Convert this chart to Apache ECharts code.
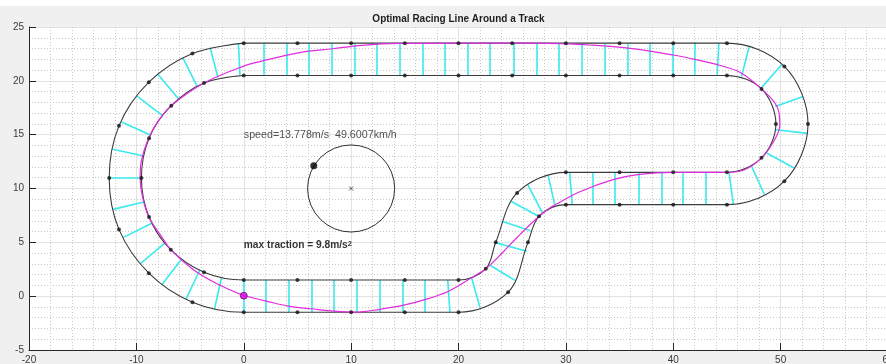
<!DOCTYPE html>
<html>
<head>
<meta charset="utf-8">
<script src="https://cdn.jsdelivr.net/npm/echarts@6/dist/echarts.min.js"></script>
<style>
html,body{margin:0;padding:0;background:#f0f0f0;}
#chart{width:886px;height:364px;}
</style>
</head>
<body>
<div id="chart"></div>
<script>
// ---------- data ----------
const chartTitle = 'Optimal Racing Line Around a Track';
const xTickRange = [-20, 60, 10];   // min, max, step
const yTickRange = [-5, 25, 5];

// boundary waypoints (black dots), left-of-travel edge
const outerEdge = [
  [0,23.5],[5,23.5],[10,23.5],[15,23.5],[20,23.5],[25,23.5],[30,23.5],[35,23.5],[40,23.5],[45,23.5],
  [50.35,21.34],[52.55,16.0],[50.35,10.68],
  [45,8.5],[40,8.5],[35,8.5],[30,8.5],
  [27.5,7.42],[26.47,5.0],[24.62,0.37],
  [20,-1.5],[15,-1.5],[10,-1.5],[5,-1.5],[0,-1.5],
  [-4.78,-0.56],[-8.84,2.14],[-11.62,6.2],[-12.53,10.98],[-11.62,15.82],[-8.84,19.87],[-4.78,22.54],[0,23.5]
];
// right-of-travel edge
const innerEdge = [
  [0,20.5],[5,20.5],[10,20.5],[15,20.5],[20,20.5],[25,20.5],[30,20.5],[35,20.5],[40,20.5],[45,20.5],
  [48.22,19.25],[49.56,16.0],[48.22,12.85],
  [45,11.5],[40,11.5],[35,11.5],[30,11.5],
  [25.46,9.59],[23.47,5.0],[22.54,2.54],
  [20,1.5],[15,1.5],[10,1.5],[5,1.5],[0,1.5],
  [-3.7,2.22],[-6.8,4.32],[-8.82,7.36],[-9.53,10.98],[-8.82,14.67],[-6.75,17.69],[-3.7,19.8],[0,20.5]
];

// optimal racing line
const racingLine = [
  [0,0.05],[-2.54,1.18],[-4.72,2.48],[-6.8,4.33],[-7.67,5.56],[-8.82,7.3],[-9.44,9.27],[-9.65,11.0],
  [-9.55,12.5],[-8.85,14.7],[-7.95,16.3],[-6.75,17.7],[-3.7,19.8],[0,21.37],[1.5,21.79],[5.2,22.62],
  [8.3,22.98],[11,23.3],[14.5,23.47],[20,23.5],[27,23.5],[29.5,23.45],[32.2,23.33],[35.8,23.03],
  [40,22.4],[42,22.0],[44.3,21.45],[46.2,20.8],[48.22,19.25],[49.65,17.64],[49.93,15.94],[49.46,14.55],
  [48.22,12.85],[46.6,11.72],[45,11.5],[40,11.5],[36.7,11.28],[34.4,10.82],[31.3,9.7],[29.44,8.72],
  [28.5,8.2],[27.5,7.42],[25.5,5.5],[24.2,4.15],[22.54,2.54],[21.21,1.71],[19.03,0.44],[16.86,-0.32],
  [14.8,-0.86],[12.67,-1.22],[10.5,-1.48],[8.4,-1.39],[6.3,-1.17],[4.16,-0.93],[2.11,-0.46],[0,0.05]
];

// cross-track segments: [x1, y1, x2, y2]
const spokes = [
  // top straight
  [-0.5,23.5,-0.35,20.5],[1.9,23.5,1.9,20.5],[4.0,23.5,4.0,20.5],[6.06,23.5,6.06,20.5],[8.23,23.5,8.23,20.5],
  [10.35,23.5,10.35,20.5],[12.42,23.5,12.42,20.5],[14.54,23.5,14.54,20.5],[16.65,23.5,16.65,20.5],
  [18.73,23.5,18.73,20.5],[20.84,23.5,20.84,20.5],[22.95,23.5,22.95,20.5],[25.1,23.5,25.1,20.5],
  [27.27,23.5,27.27,20.5],[29.38,23.5,29.38,20.5],[31.5,23.5,31.5,20.5],[33.65,23.5,33.65,20.5],
  [35.76,23.5,35.76,20.5],[37.84,23.5,37.84,20.5],[39.92,23.5,39.92,20.5],[42.03,23.55,42.0,20.55],
  [44.25,23.52,44.09,20.55],
  // hairpin
  [47.07,23.2,46.36,20.4],[50.09,21.5,48.16,19.3],[52.1,18.55,49.5,17.62],[52.5,15.12,49.55,15.45],
  [51.25,11.9,48.7,13.3],[48.5,9.42,47.3,12.05],
  // middle straight
  [45.6,8.5,45.2,11.5],[43.04,8.5,43.04,11.5],[40.93,8.5,40.93,11.5],[38.91,8.5,38.91,11.5],
  [36.8,8.5,36.8,11.5],[34.56,8.5,34.56,11.5],[32.48,8.5,32.48,11.5],[30.6,8.5,30.35,11.5],
  // S-curve
  [28.97,8.45,28.35,11.2],[27.8,7.75,26.45,10.36],[27.4,7.45,24.9,8.81],[26.7,6.08,24.05,6.95],
  [26.37,4.17,23.5,4.95],[25.24,1.48,22.98,2.85],[22.0,-1.05,21.2,1.78],
  // bottom straight
  [19.2,-1.5,19.0,1.5],[16.86,-1.5,16.86,1.5],[14.78,-1.5,14.78,1.5],[12.67,-1.5,12.67,1.5],
  [10.55,-1.5,10.55,1.5],[8.41,-1.5,8.41,1.5],[6.3,-1.5,6.3,1.5],[4.2,-1.5,4.2,1.5],[2.05,-1.5,2.05,1.5],
  [0,-1.5,0,1.5],
  // left turn
  [-2.73,-1.2,-2.07,1.73],[-5.38,-0.28,-4.09,2.43],[-7.61,1.08,-5.78,3.46],[-9.63,3.03,-7.32,4.94],
  [-11.21,5.46,-8.52,6.79],[-12.15,8.06,-9.23,8.77],[-12.5,10.96,-9.5,10.97],[-12.22,13.64,-9.29,13.01],
  [-11.38,16.18,-8.65,14.94],[-9.94,18.57,-7.56,16.76],[-7.99,20.62,-6.07,18.31],[-5.67,22.14,-4.35,19.5],
  [-3.13,23.1,-2.4,20.3]
];

const startPoint = [0, 0.05];
const gCircleCenter = [10, 10];
const gCircleRadius = 4.05;
const gVectorTip = [6.52, 12.12];

const speedText = 'speed=13.778m/s  49.6007km/h';
const speedTextAt = [0, 15.0];
const tractionText = 'max traction = 9.8m/s';
const tractionExp = '2';
const tractionTextAt = [0, 4.73];

// ---------- chart ----------
const chart = echarts.init(document.getElementById('chart'), null, {renderer: 'canvas'});
const axisColor = '#262626';

const dots = outerEdge.slice(0, -1).concat(innerEdge.slice(0, -1));

function axisCommon(range, minorSplit, isX) {
  return {
    type: 'value',
    min: range[0], max: range[1], interval: range[2],
    axisLine: {show: true, onZero: false, lineStyle: {color: axisColor, width: 1}},
    axisTick: {show: true, inside: true, length: 7, lineStyle: {color: axisColor, width: 1}},
    axisLabel: {color: '#3a3a3a', fontSize: 10, fontFamily: 'Liberation Sans, Arial, sans-serif',
      margin: 5, showMinLabel: true, showMaxLabel: true, hideOverlap: false},
    splitLine: {show: true, lineStyle: {color: '#e2e2e2', width: 1}},
    minorTick: {show: false, splitNumber: minorSplit},
    minorSplitLine: {show: true, lineStyle: {color: '#c9c9c9', width: 1, type: [1, 2]}}
  };
}

const option = {
  animation: false,
  backgroundColor: '#f0f0f0',
  graphic: [
    {type: 'rect', shape: {x: 0, y: 0, width: 886, height: 6}, style: {fill: '#ffffff'}, z: 0},
    {type: 'text', x: 458.5, y: 19,
      style: {text: chartTitle, font: 'bold 10px "Liberation Sans", Arial, sans-serif', fill: '#1e1e1e',
        align: 'center', verticalAlign: 'middle', textAlign: 'center', textVerticalAlign: 'middle'}}
  ],
  grid: {left: 29, top: 27, width: 859, height: 323, show: true, backgroundColor: '#ffffff', borderWidth: 0,
    containLabel: false, outerBoundsMode: 'none'},
  xAxis: axisCommon(xTickRange, 5, true),
  yAxis: axisCommon(yTickRange, 5, false),
  series: [
    {
      type: 'lines', coordinateSystem: 'cartesian2d', z: 2,
      data: spokes.map(s => ({coords: [[s[0], s[1]], [s[2], s[3]]]})),
      lineStyle: {color: 'rgb(60,233,238)', width: 1.6, opacity: 1},
      silent: true
    },
    {
      type: 'line', data: outerEdge, smooth: 0.35, showSymbol: false, z: 3,
      lineStyle: {color: '#3a3a3a', width: 1.1}, silent: true
    },
    {
      type: 'line', data: innerEdge, smooth: 0.35, showSymbol: false, z: 3,
      lineStyle: {color: '#3a3a3a', width: 1.1}, silent: true
    },
    {
      type: 'line', data: racingLine, smooth: 0.35, showSymbol: false, z: 4,
      lineStyle: {color: '#e02ce0', width: 1.2}, silent: true
    },
    {
      type: 'scatter', data: dots, symbol: 'circle', symbolSize: 4, z: 5,
      itemStyle: {color: '#141414'}, silent: true
    },
    {
      type: 'scatter', data: [startPoint], symbol: 'circle', symbolSize: 7, z: 6,
      itemStyle: {color: '#e000e0', borderColor: '#4a004a', borderWidth: 0.8}, silent: true
    },
    {
      type: 'custom', coordinateSystem: 'cartesian2d', z: 5, silent: true,
      data: [[gCircleCenter[0], gCircleCenter[1], gCircleRadius]],
      renderItem: function (params, api) {
        const c = api.coord([api.value(0), api.value(1)]);
        const s = api.size([api.value(2), api.value(2)]);
        const r = (s[0] + s[1]) / 2;
        return {type: 'group', children: [
          {type: 'circle', shape: {cx: c[0], cy: c[1], r: r}, style: {fill: 'none', stroke: '#2e2e2e', lineWidth: 1}},
          {type: 'line', shape: {x1: c[0]-2, y1: c[1]-2, x2: c[0]+2, y2: c[1]+2}, style: {stroke: '#333', lineWidth: 0.8}},
          {type: 'line', shape: {x1: c[0]-2, y1: c[1]+2, x2: c[0]+2, y2: c[1]-2}, style: {stroke: '#333', lineWidth: 0.8}}
        ]};
      }
    },
    {
      type: 'scatter', data: [gVectorTip], symbol: 'circle', symbolSize: 7, z: 6,
      itemStyle: {color: '#000'}, silent: true
    },
    {
      type: 'scatter', data: [speedTextAt], symbolSize: 0.1, z: 7, silent: true,
      itemStyle: {color: 'transparent'},
      label: {show: true, position: 'right', distance: 0, formatter: speedText,
        color: '#262626', fontSize: 10.7, fontFamily: '"Liberation Sans", Arial, sans-serif'}
    },
    {
      type: 'scatter', data: [tractionTextAt], symbolSize: 0.1, z: 7, silent: true,
      itemStyle: {color: 'transparent'},
      label: {show: true, position: 'right', distance: 0,
        formatter: tractionText + '{sup|' + tractionExp + '}',
        color: '#000', fontSize: 10.2, fontWeight: 'bold', fontFamily: '"Liberation Sans", Arial, sans-serif',
        rich: {sup: {fontSize: 7.5, fontWeight: 'bold', color: '#000', verticalAlign: 'top', lineHeight: 8,
          fontFamily: '"Liberation Sans", Arial, sans-serif'}}}
    }
  ]
};
chart.setOption(option);
</script>
</body>
</html>
